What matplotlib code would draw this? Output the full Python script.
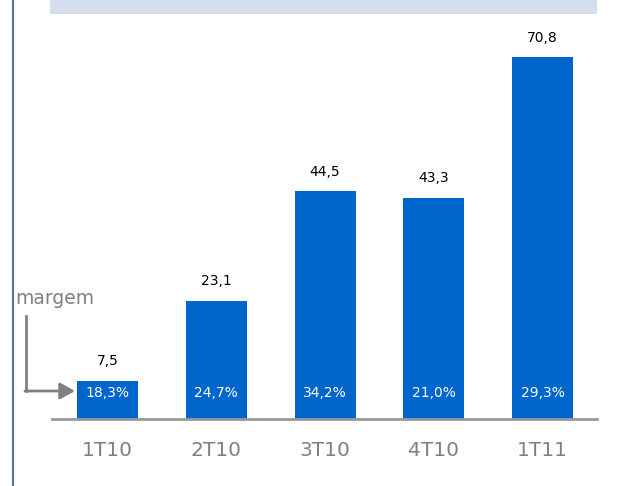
import matplotlib.pyplot as plt
from matplotlib.patches import Rectangle, FancyArrowPatch
from matplotlib.lines import Line2D

periods = ["1T10", "2T10", "3T10", "4T10", "1T11"]
values = [7.5, 23.1, 44.5, 43.3, 70.8]
margins = ["18,3%", "24,7%", "34,2%", "21,0%", "29,3%"]

W, H = 634, 486
fig = plt.figure(figsize=(W / 100, H / 100), dpi=100)
plt.rcParams['font.family'] = ['DejaVu Sans']

# frame decorations
fig.add_artist(Rectangle((50 / W, 1 - 14 / H), 547 / W, 14 / H, transform=fig.transFigure,
                         facecolor="#D3DFEE", edgecolor="none"))
fig.add_artist(Line2D([12.5 / W, 12.5 / W], [0, 1], transform=fig.transFigure,
                      color="#4F74A8", lw=1.5))

ax = fig.add_axes([52 / W, 67 / H, 545 / W, 409 / H])
x = range(len(periods))
bars = ax.bar(x, values, width=0.56, color="#0066CC")
ax.set_xlim(-0.51, 4.5)
ax.set_ylim(0, 80)
for s in ["top", "right", "left"]:
    ax.spines[s].set_visible(False)
ax.spines["bottom"].set_color("#999999")
ax.spines["bottom"].set_linewidth(2)
ax.set_yticks([])
ax.set_xticks(list(x))
ax.set_xticklabels(periods, fontsize=14.5, color="#808080")
ax.tick_params(axis="x", length=0, pad=16)

for xi, v, m in zip(x, values, margins):
    ax.annotate(f"{v:.1f}".replace(".", ","), (xi, v), xytext=(0, 9), textcoords="offset points",
                ha="center", va="bottom", fontsize=10, color="black")
    ax.annotate(m, (xi, 0), xytext=(0, 19), textcoords="offset points",
                ha="center", va="center", fontsize=10, color="white")

# "margem" callout
fig.text(15 / W, 1 - 298 / H, "margem", fontsize=13.5, color="#808080", ha="left", va="center")
fig.add_artist(Line2D([26 / W, 26 / W], [1 - 316 / H, 1 - 391 / H], transform=fig.transFigure,
                      color="#808080", lw=2))
fig.add_artist(FancyArrowPatch((25 / W, 1 - 391 / H), (75 / W, 1 - 391 / H), transform=fig.transFigure,
                               arrowstyle="-|>,head_length=9,head_width=5", color="#808080", lw=2,
                               shrinkA=0, shrinkB=0))

fig.savefig("out.png", dpi=100)
